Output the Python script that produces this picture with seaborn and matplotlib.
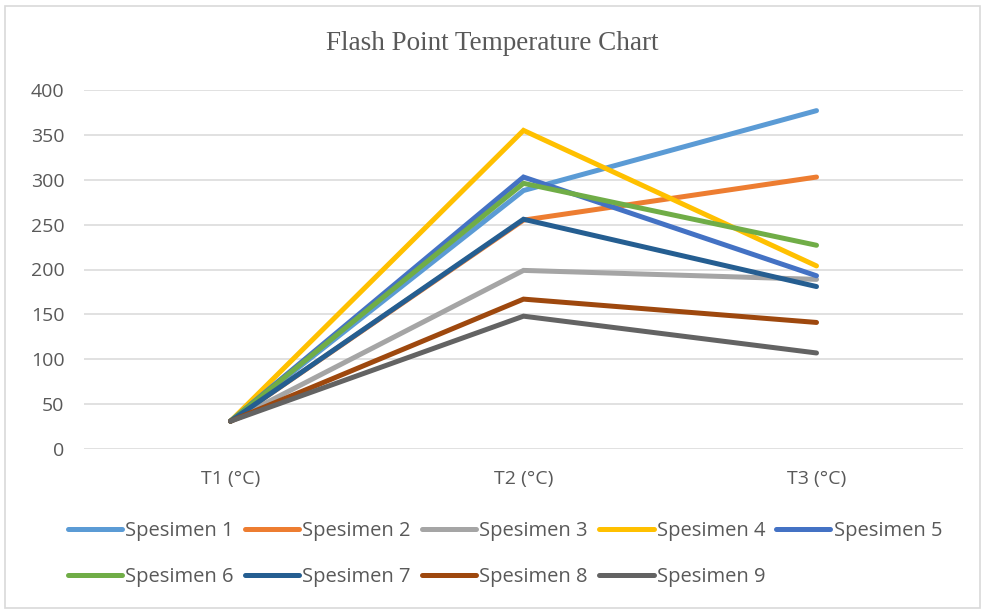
import matplotlib
matplotlib.use("Agg")
import matplotlib.pyplot as plt
from matplotlib.lines import Line2D
from matplotlib.patches import Rectangle
import seaborn as sns
import pandas as pd

categories = ["T1 (°C)", "T2 (°C)", "T3 (°C)"]
series_names = [f"Spesimen {i}" for i in range(1, 10)]
s1 = [31, 288, 377]
s2 = [31, 255, 303]
s3 = [31, 199, 189]
s4 = [31, 355, 204]
s5 = [31, 303, 193]
s6 = [31, 296, 227]
s7 = [31, 256, 181]
s8 = [31, 167, 141]
s9 = [31, 148, 107]
values = [s1, s2, s3, s4, s5, s6, s7, s8, s9]
colors = ["#5B9BD5", "#ED7D31", "#A5A5A5", "#FFC000", "#4472C4",
          "#70AD47", "#255E91", "#9E480E", "#636363"]
yticks = [0, 50, 100, 150, 200, 250, 300, 350, 400]

rows = []
for name, vals in zip(series_names, values):
    for c, v in zip(categories, vals):
        rows.append({"Kategori": c, "Nilai": v, "Seri": name})
df = pd.DataFrame(rows)

sns.set_theme(style="white")
plt.rcParams["font.family"] = ["Open Sans", "DejaVu Sans"]

fig = plt.figure(figsize=(9.84, 6.12), dpi=100)
ax = fig.add_axes([84/984, 1-449/612, (963-84)/984, (449-90)/612])

palette = dict(zip(series_names, colors))
sns.lineplot(data=df, x="Kategori", y="Nilai", hue="Seri", palette=palette,
             linewidth=3.6, legend=False, ax=ax, sort=False)
for ln in ax.lines:
    ln.set_solid_capstyle("round")
    ln.set_solid_joinstyle("miter")

ax.set_xlim(-0.5, 2.5)
ax.set_ylim(0, 400)
ax.set_yticks(yticks)
ax.set_yticklabels([str(t) for t in yticks])
ax.yaxis.grid(True, color="#D9D9D9", linewidth=1.1)
ax.set_axisbelow(True)
for s in ax.spines.values():
    s.set_visible(False)
ax.set_xlabel("")
ax.set_ylabel("")
ax.tick_params(axis="both", length=0, labelsize=14, labelcolor="#595959")
ax.tick_params(axis="x", pad=15)
ax.tick_params(axis="y", pad=14)

fig.text(0.5, 1-43/612, "Flash Point Temperature Chart", ha="center", va="center",
         fontsize=19.5, color="#595959", family=["Liberation Serif"])

order = [0, 5, 1, 6, 2, 7, 3, 8, 4]
handles = [Line2D([0], [0], color=colors[i], linewidth=3.6, solid_capstyle="round") for i in order]
labels = [series_names[i] for i in order]
fig.legend(handles, labels, ncol=5, loc="center", bbox_to_anchor=(505/984, 1-554/612),
           frameon=False, fontsize=14.5, handlelength=2.7, handletextpad=0.15,
           columnspacing=0.55, labelspacing=1.3, labelcolor="#595959")

fig.patches.append(Rectangle((5/984, 4/612), 975/984, 602/612, transform=fig.transFigure,
                             fill=False, edgecolor="#D9D9D9", linewidth=1.2))

fig.savefig("out.png", dpi=100, facecolor="white")
